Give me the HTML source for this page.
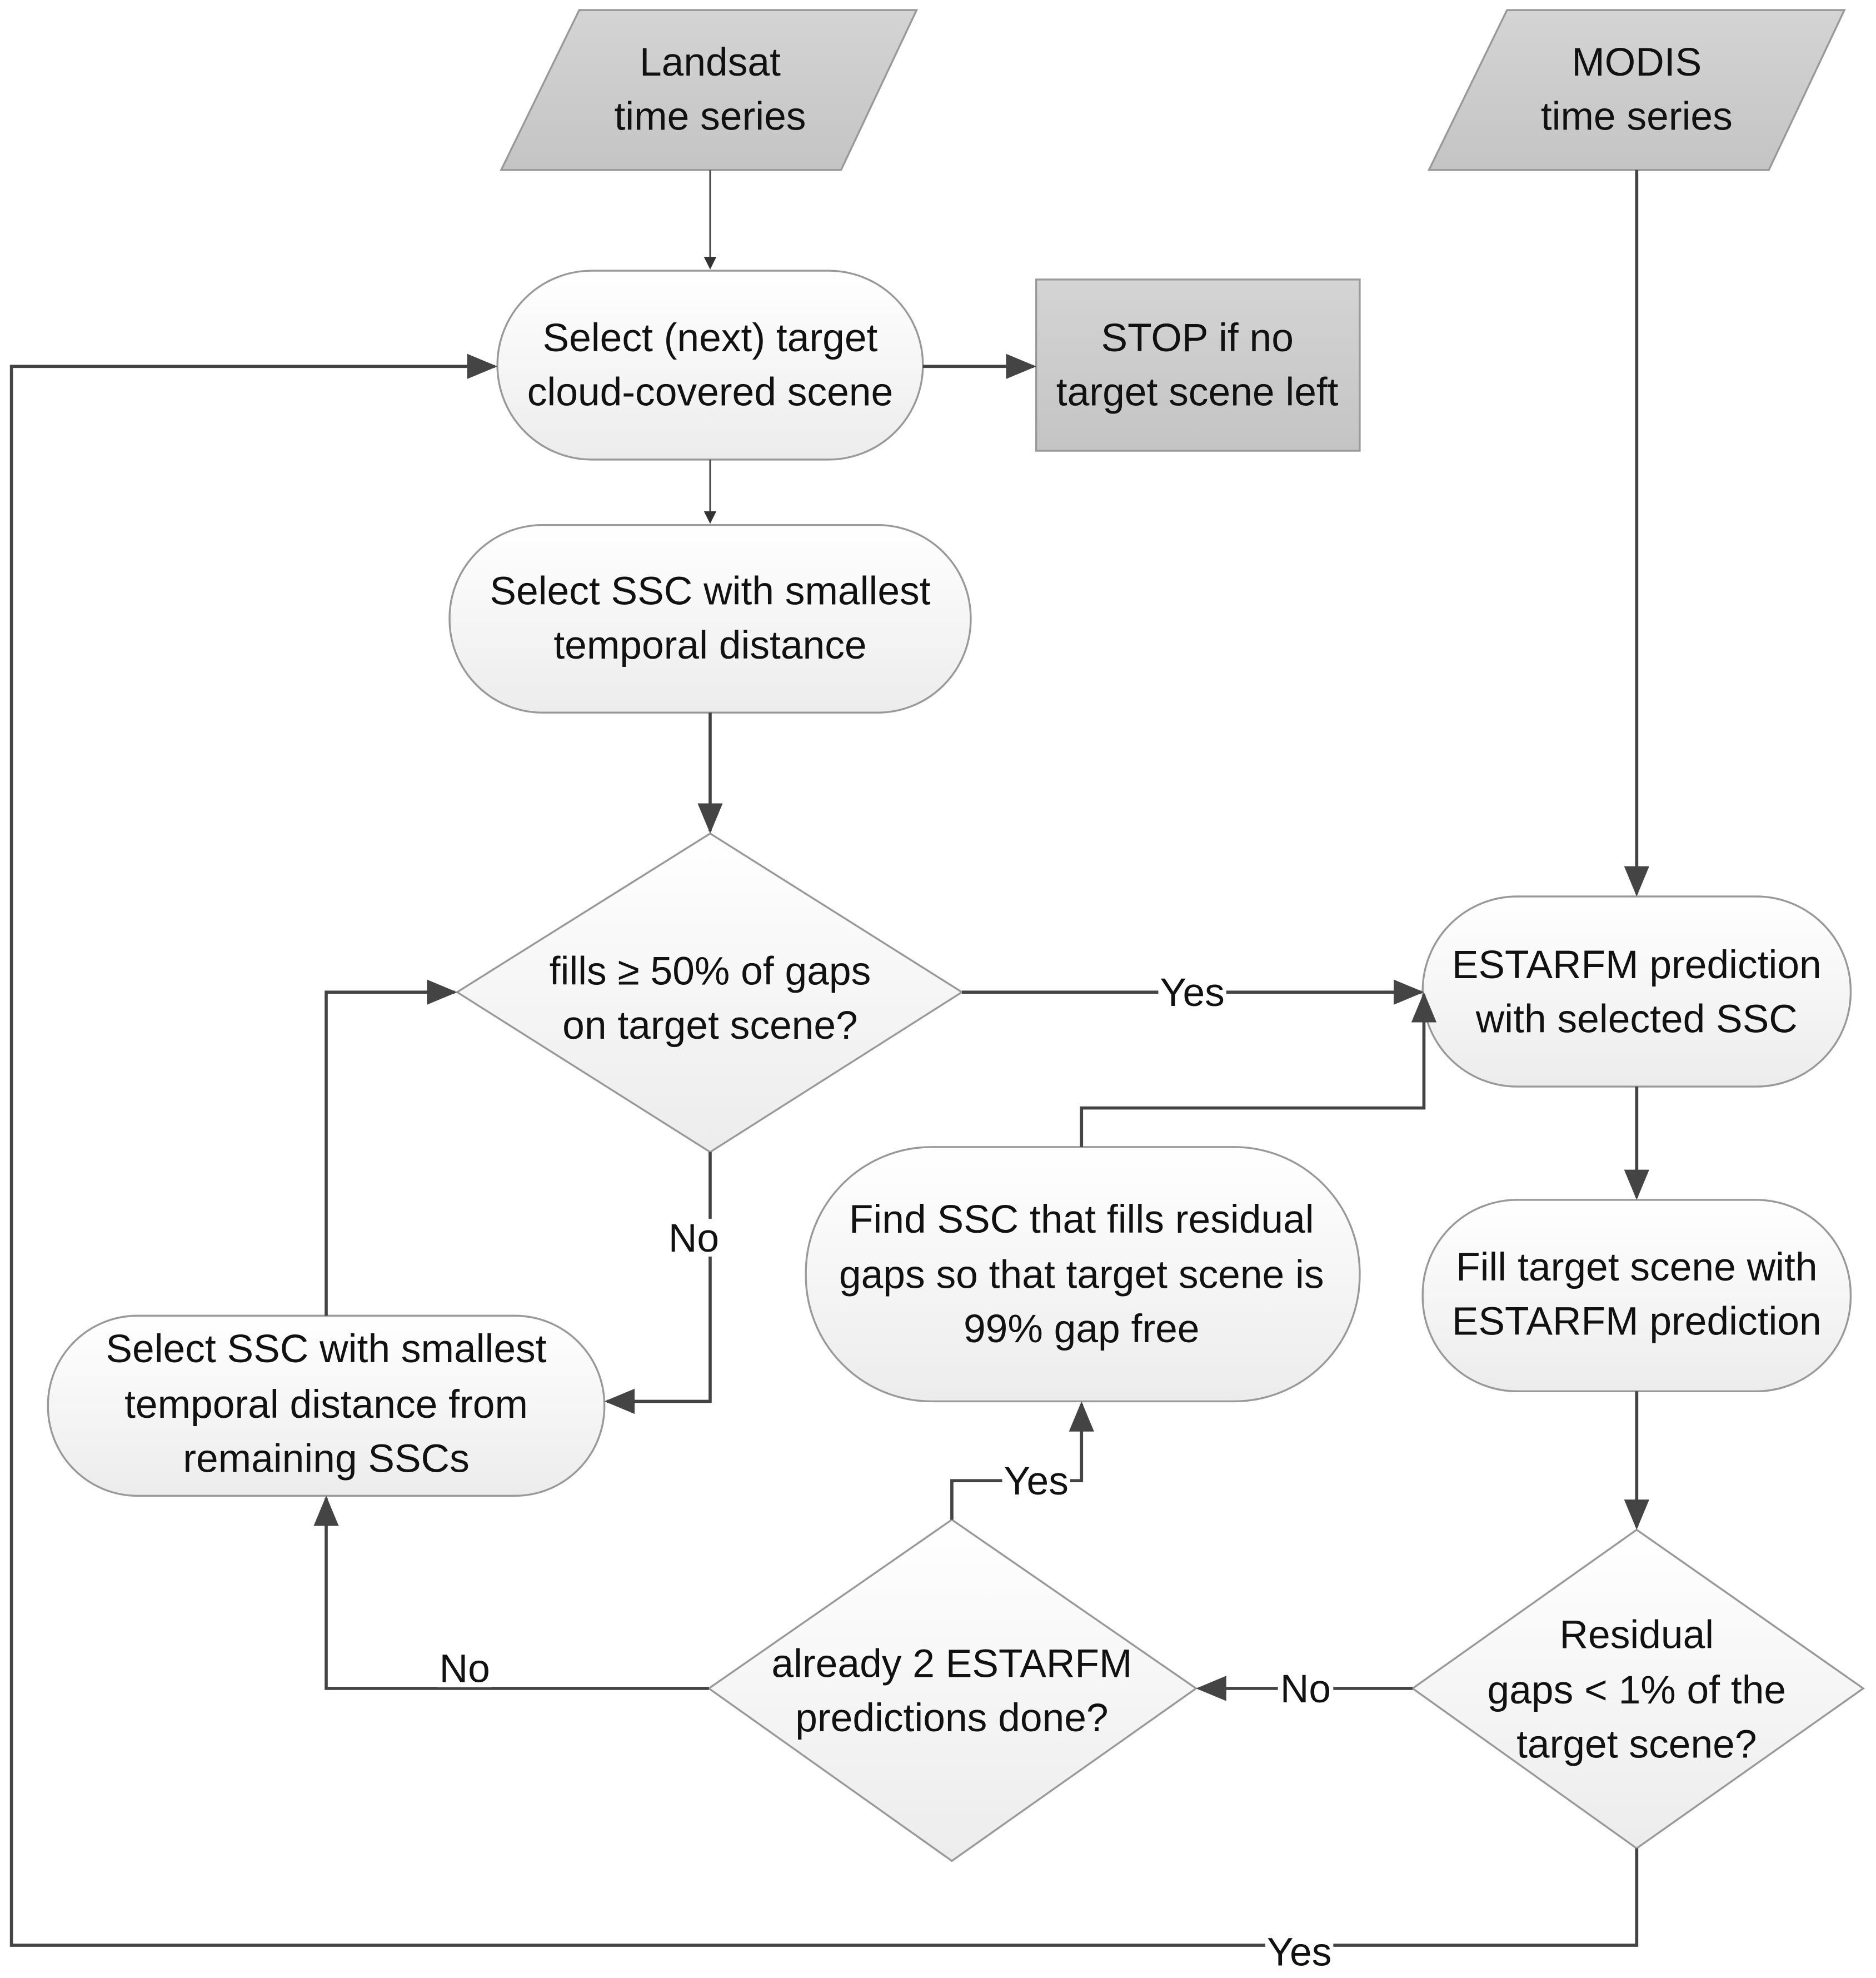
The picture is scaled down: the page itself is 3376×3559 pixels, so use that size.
<!DOCTYPE html>
<html><head><meta charset="utf-8"><style>html,body{margin:0;padding:0;background:#fff}svg{display:block}</style></head>
<body>
<svg width="3376" height="3559" viewBox="0 0 1490 1571" xmlns="http://www.w3.org/2000/svg" font-family="Liberation Sans, sans-serif" font-size="31.5" fill="#111">
<defs>
<linearGradient id="g" x1="0" y1="0" x2="0" y2="1"><stop offset="0" stop-color="#fff"/><stop offset="1" stop-color="#ececec"/></linearGradient>
<linearGradient id="d" x1="0" y1="0" x2="0" y2="1"><stop offset="0" stop-color="#d4d4d4"/><stop offset="1" stop-color="#c4c4c4"/></linearGradient>
<marker id="a" markerWidth="10" markerHeight="10" refX="9" refY="5" orient="auto" markerUnits="userSpaceOnUse" viewBox="0 0 10 10"><path d="M0,0 L10,5 L0,10 z" fill="#333"/></marker>
<marker id="b" markerWidth="24" markerHeight="24" refX="22" refY="12" orient="auto" markerUnits="userSpaceOnUse" viewBox="0 0 24 24"><path d="M0,2 L24,12 L0,22 z" fill="#444"/></marker>
</defs>
<g stroke="#999" stroke-width="1.5">
<polygon points="460,8 728,8 668,135 398,135" fill="url(#d)"/>
<polygon points="1197,8 1465,8 1405,135 1135,135" fill="url(#d)"/>
<rect x="395" y="215" width="338" height="150" rx="75" fill="url(#g)"/>
<rect x="823" y="222" width="257" height="136" fill="url(#d)"/>
<rect x="357" y="417" width="414" height="149" rx="74" fill="url(#g)"/>
<polygon points="564,662 764,788 564,915 363,788" fill="url(#g)"/>
<rect x="1130" y="712" width="340" height="151" rx="75" fill="url(#g)"/>
<rect x="1130" y="953" width="340" height="152" rx="75" fill="url(#g)"/>
<polygon points="1300,1215 1480,1341 1300,1468 1122,1341" fill="url(#g)"/>
<polygon points="756,1207 950,1341 756,1478 563,1341" fill="url(#g)"/>
<rect x="640" y="911" width="440" height="202" rx="100" fill="url(#g)"/>
<rect x="38" y="1045" width="442" height="143" rx="71" fill="url(#g)"/>
</g>
<g fill="none" stroke="#444" stroke-width="2.5">
<line x1="564" y1="135" x2="564" y2="213" stroke-width="1.3" marker-end="url(#a)"/>
<line x1="564" y1="365" x2="564" y2="415" stroke-width="1.3" marker-end="url(#a)"/>
<line x1="733" y1="291" x2="821" y2="291" marker-end="url(#b)"/>
<line x1="564" y1="566" x2="564" y2="660" marker-end="url(#b)"/>
<line x1="764" y1="788" x2="1129" y2="788" marker-end="url(#b)"/>
<line x1="1300" y1="135" x2="1300" y2="710" marker-end="url(#b)"/>
<line x1="1300" y1="863" x2="1300" y2="951" marker-end="url(#b)"/>
<line x1="1300" y1="1105" x2="1300" y2="1213" marker-end="url(#b)"/>
<line x1="1122" y1="1341" x2="952" y2="1341" marker-end="url(#b)"/>
<polyline points="756,1207 756,1176 859,1176 859,1115" marker-end="url(#b)"/>
<polyline points="859,911 859,880 1131,880 1131,790" marker-end="url(#b)"/>
<polyline points="563,1341 259,1341 259,1190" marker-end="url(#b)"/>
<polyline points="259,1045 259,788 361,788" marker-end="url(#b)"/>
<polyline points="564,915 564,1113 482,1113" marker-end="url(#b)"/>
<polyline points="1300,1468 1300,1545 9,1545 9,291 393,291" marker-end="url(#b)"/>
</g>
<g text-anchor="middle">
<text x="564" y="60">Landsat</text><text x="564" y="103">time series</text>
<text x="1300" y="60">MODIS</text><text x="1300" y="103">time series</text>
<text x="564" y="279">Select (next) target</text><text x="564" y="322">cloud-covered scene</text>
<text x="951" y="279">STOP if no</text><text x="951" y="322">target scene left</text>
<text x="564" y="480">Select SSC with smallest</text><text x="564" y="523">temporal distance</text>
<text x="564" y="782">fills ≥ 50% of gaps</text><text x="564" y="825">on target scene?</text>
<text x="1300" y="777">ESTARFM prediction</text><text x="1300" y="820">with selected SSC</text>
<text x="1300" y="1017">Fill target scene with</text><text x="1300" y="1060">ESTARFM prediction</text>
<text x="1300" y="1309">Residual</text><text x="1300" y="1353">gaps &lt; 1% of the</text><text x="1300" y="1396">target scene?</text>
<text x="756" y="1332">already 2 ESTARFM</text><text x="756" y="1375">predictions done?</text>
<text x="859" y="979">Find SSC that fills residual</text><text x="859" y="1023">gaps so that target scene is</text><text x="859" y="1066">99% gap free</text>
<text x="259" y="1082">Select SSC with smallest</text><text x="259" y="1126">temporal distance from</text><text x="259" y="1169">remaining SSCs</text>
</g>
<g text-anchor="middle">
<rect x="920" y="773" width="54" height="30" fill="#fff"/><text x="947" y="799">Yes</text>
<rect x="1015" y="1326" width="44" height="30" fill="#fff"/><text x="1037" y="1352">No</text>
<rect x="796" y="1161" width="54" height="30" fill="#fff"/><text x="823" y="1187">Yes</text>
<rect x="347" y="1310" width="44" height="30" fill="#fff"/><text x="369" y="1336">No</text>
<rect x="529" y="968" width="44" height="30" fill="#fff"/><text x="551" y="994">No</text>
<rect x="1005" y="1535" width="54" height="32" fill="#fff"/><text x="1032" y="1561">Yes</text>
</g>
</svg>
</body></html>
